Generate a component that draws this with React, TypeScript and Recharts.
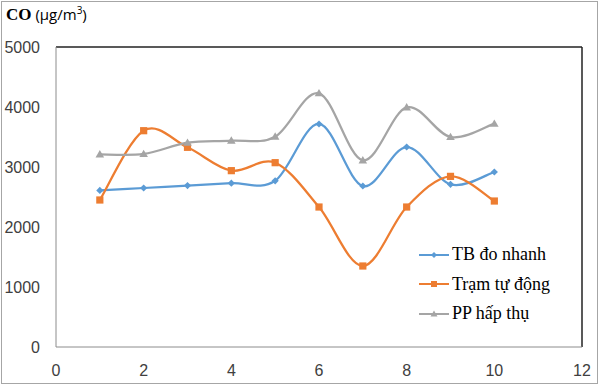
import React from "react";
import {
  LineChart,
  Line,
  XAxis,
  YAxis,
  Legend,
  ReferenceLine,
} from "recharts";

// sample index (x) and CO concentration readings (µg/m³)
const samples = [1, 2, 3, 4, 5, 6, 7, 8, 9, 10];
const tbDoNhanh = [2610, 2650, 2690, 2730, 2770, 3717, 2683, 3333, 2711, 2917];
const tramTuDong = [2450, 3605, 3328, 2939, 3072, 2333, 1350, 2333, 2844, 2433];
const ppHapThu = [3211, 3217, 3405, 3439, 3506, 4228, 3111, 3994, 3500, 3722];

const xTicks = [0, 2, 4, 6, 8, 10, 12];
const yTicks = [0, 1000, 2000, 3000, 4000, 5000];

const BLUE = "#5B9BD5";
const ORANGE = "#ED7D31";
const GREY = "#A5A5A5";

const data = samples.map((x, i) => ({
  x,
  tb: tbDoNhanh[i],
  tram: tramTuDong[i],
  pp: ppHapThu[i],
}));

// Excel-like smoothed line (Catmull-Rom through every point)
function smoothCurve(context: any) {
  let pts: number[][] = [];
  return {
    areaStart() {},
    areaEnd() {},
    lineStart() {
      pts = [];
    },
    point(x: number, y: number) {
      pts.push([+x, +y]);
    },
    lineEnd() {
      const n = pts.length;
      if (!n) return;
      context.moveTo(pts[0][0], pts[0][1]);
      for (let i = 0; i < n - 1; i++) {
        const p0 = pts[Math.max(i - 1, 0)];
        const p1 = pts[i];
        const p2 = pts[i + 1];
        const p3 = pts[Math.min(i + 2, n - 1)];
        context.bezierCurveTo(
          p1[0] + (p2[0] - p0[0]) / 6,
          p1[1] + (p2[1] - p0[1]) / 6,
          p2[0] - (p3[0] - p1[0]) / 6,
          p2[1] - (p3[1] - p1[1]) / 6,
          p2[0],
          p2[1]
        );
      }
    },
  };
}

const Marker = ({ cx, cy, shape, color, size }: any) => {
  if (cx == null || cy == null) return null;
  const s = size;
  if (shape === "diamond") {
    return (
      <path
        d={`M${cx},${cy - s} L${cx + s},${cy} L${cx},${cy + s} L${cx - s},${cy} Z`}
        fill={color}
      />
    );
  }
  if (shape === "square") {
    return <rect x={cx - s} y={cy - s} width={s * 2} height={s * 2} fill={color} />;
  }
  return (
    <path
      d={`M${cx},${cy - s - 0.5} L${cx + s + 0.5},${cy + s * 0.8} L${cx - s - 0.5},${cy + s * 0.8} Z`}
      fill={color}
    />
  );
};

const seriesInfo = [
  { key: "tb", name: "TB đo nhanh", color: BLUE, shape: "diamond", size: 3.6 },
  { key: "tram", name: "Trạm tự động", color: ORANGE, shape: "square", size: 3.6 },
  { key: "pp", name: "PP hấp thụ", color: GREY, shape: "triangle", size: 3.8 },
];

const LegendBox = () => (
  <div style={{ fontFamily: "'Liberation Serif', serif", fontSize: 18, color: "#000" }}>
    {seriesInfo.map((s) => (
      <div key={s.key} style={{ display: "flex", alignItems: "center", height: 29.5 }}>
        <svg width={32} height={12} style={{ marginRight: 2 }}>
          <line x1={1} y1={6} x2={31} y2={6} stroke={s.color} strokeWidth={2} />
          <Marker cx={16} cy={6} shape={s.shape} color={s.color} size={3} />
        </svg>
        <span>{s.name}</span>
      </div>
    ))}
  </div>
);

export default function App() {
  return (
    <div
      style={{
        position: "absolute",
        left: 0,
        top: 0,
        width: 600,
        height: 385,
        background: "#fff",
      }}
    >
      <div
        style={{
          position: "absolute",
          left: 1,
          top: 1,
          width: 595,
          height: 381,
          border: "1px solid #a6a6a6",
        }}
      />
      <div
        style={{
          position: "absolute",
          left: 6,
          top: 3,
          fontSize: 17,
          color: "#000",
          whiteSpace: "nowrap",
        }}
      >
        <span style={{ fontFamily: "'Liberation Serif', serif", fontWeight: "bold" }}>CO</span>
        <span style={{ fontFamily: "'Open Sans', sans-serif", fontSize: 15 }}>
          {" "}
          (µg/m<sup style={{ fontSize: 10 }}>3</sup>)
        </span>
      </div>
      <LineChart
        width={600}
        height={385}
        data={data}
        margin={{ top: 47, right: 18, bottom: 0, left: 0 }}
        style={{ position: "absolute", left: 0, top: 0 }}
      >
        <XAxis
          dataKey="x"
          type="number"
          domain={[0, 12]}
          ticks={xTicks}
          height={38}
          axisLine={{ stroke: "#8c8c8c", strokeWidth: 1 }}
          tickLine={false}
          tickMargin={12}
          tick={{ fill: "#404040", fontSize: 16, fontFamily: "'Liberation Sans', sans-serif" }}
        />
        <YAxis
          type="number"
          domain={[0, 5000]}
          ticks={yTicks}
          width={56}
          axisLine={{ stroke: "#8c8c8c", strokeWidth: 1 }}
          tickLine={false}
          tickMargin={10}
          tick={{ fill: "#404040", fontSize: 16, fontFamily: "'Liberation Sans', sans-serif" }}
        />
        <ReferenceLine y={5000} stroke="#222" strokeWidth={1.5} />
        <ReferenceLine x={12} stroke="#222" strokeWidth={1.5} />
        {seriesInfo.map((s) => (
          <Line
            key={s.key}
            dataKey={s.key}
            name={s.name}
            type={smoothCurve as any}
            stroke={s.color}
            strokeWidth={2.25}
            isAnimationActive={false}
            dot={(p: any) => (
              <Marker
                key={`${s.key}-${p.index}`}
                cx={p.cx}
                cy={p.cy}
                shape={s.shape}
                color={s.color}
                size={s.size}
              />
            )}
            activeDot={false}
          />
        ))}
        <Legend
          layout="vertical"
          align="center"
          verticalAlign="middle"
          content={<LegendBox />}
          wrapperStyle={{ position: "absolute", left: 418, top: 240, width: 160 }}
        />
      </LineChart>
    </div>
  );
}
